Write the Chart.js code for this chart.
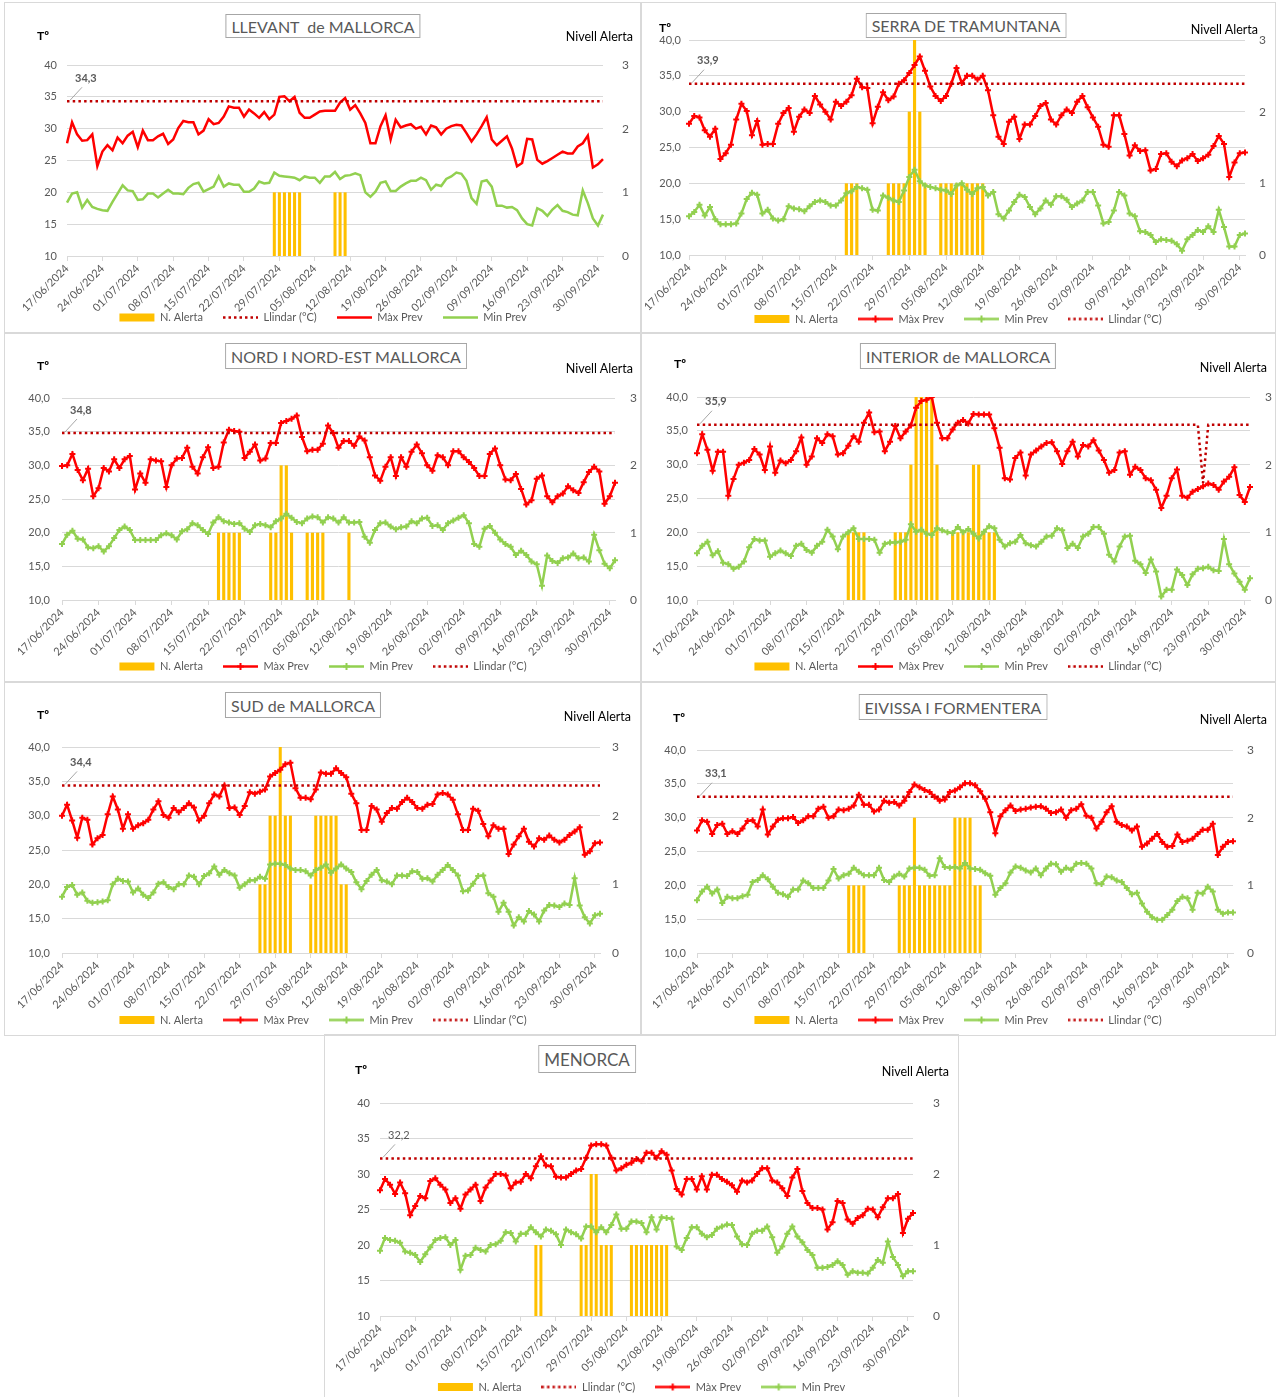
<!DOCTYPE html>
<html><head><meta charset="utf-8">
<script src="https://cdn.jsdelivr.net/npm/chart.js@4.4.1/dist/chart.umd.min.js"></script>
<style>
body{margin:0;background:#fff;width:1276px;height:1397px;position:relative;overflow:hidden;font-family:Lato,"Liberation Sans",sans-serif}
.panel{position:absolute;outline:1px solid #d9d9d9;}
.panel canvas{position:absolute;left:0;top:0}
.ttl{position:absolute;transform:translateX(-50%);border:1px solid #a6a6a6;color:#595959;font-size:16px;padding:0 5px;white-space:pre;display:flex;align-items:center;background:#fff;box-sizing:border-box}
.tu{position:absolute;font-weight:bold;font-size:12px;color:#000;transform:translateY(-50%)}
.na{position:absolute;font-size:12.5px;color:#000;transform:translate(-100%,-50%);white-space:nowrap}
</style></head><body>
<div class="panel" style="left:5px;top:3px;width:636px;height:330px"><canvas id="c1" width="636" height="330"></canvas></div>
<div class="panel" style="left:641px;top:3px;width:634px;height:330px"><canvas id="c2" width="634" height="330"></canvas></div>
<div class="panel" style="left:5px;top:333px;width:636px;height:349px"><canvas id="c3" width="636" height="349"></canvas></div>
<div class="panel" style="left:641px;top:333px;width:634px;height:349px"><canvas id="c4" width="634" height="349"></canvas></div>
<div class="panel" style="left:5px;top:682px;width:636px;height:353px"><canvas id="c5" width="636" height="353"></canvas></div>
<div class="panel" style="left:641px;top:682px;width:634px;height:353px"><canvas id="c6" width="634" height="353"></canvas></div>
<div class="panel" style="left:325px;top:1035px;width:633px;height:362px"><canvas id="c7" width="633" height="362"></canvas></div>

<div class="ttl" style="left:323px;top:14px;height:24px">LLEVANT  de MALLORCA</div>
<div class="tu" style="left:37px;top:35px">Tº</div>
<div class="na" style="left:633px;top:36px">Nivell Alerta</div>

<div class="ttl" style="left:966px;top:13px;height:25px">SERRA DE TRAMUNTANA</div>
<div class="tu" style="left:659px;top:27px">Tº</div>
<div class="na" style="left:1258px;top:29px">Nivell Alerta</div>

<div class="ttl" style="left:346px;top:343px;height:26px">NORD I NORD-EST MALLORCA</div>
<div class="tu" style="left:37px;top:365px">Tº</div>
<div class="na" style="left:633px;top:368px">Nivell Alerta</div>

<div class="ttl" style="left:958px;top:343px;height:26px">INTERIOR de MALLORCA</div>
<div class="tu" style="left:674px;top:363px">Tº</div>
<div class="na" style="left:1267px;top:367px">Nivell Alerta</div>

<div class="ttl" style="left:303px;top:692px;height:26px">SUD de MALLORCA</div>
<div class="tu" style="left:37px;top:714px">Tº</div>
<div class="na" style="left:631px;top:716px">Nivell Alerta</div>

<div class="ttl" style="left:953px;top:694px;height:26px">EIVISSA I FORMENTERA</div>
<div class="tu" style="left:673px;top:717px">Tº</div>
<div class="na" style="left:1267px;top:719px">Nivell Alerta</div>

<div class="ttl" style="left:587px;top:1045px;height:28px;font-size:17px">MENORCA</div>
<div class="tu" style="left:355px;top:1069px">Tº</div>
<div class="na" style="left:949px;top:1071px">Nivell Alerta</div>

<script>
// ---------- DATA ----------
const firstDay = {y: 2024, m: 6, d: 17};
const nDays = 107;
const tickEvery = 7;
const seriesNames = {alert: 'N. Alerta', max: 'Màx Prev', min: 'Min Prev', thr: 'Llindar (°C)'};

// LLEVANT de MALLORCA
const llevantMax = [27.7,31.0,29.1,28.1,28.2,29.1,24.1,26.4,27.4,26.6,
28.6,27.7,28.9,29.5,27.1,29.7,28.2,28.2,28.8,29.2,
27.6,28.3,30.1,31.2,31.0,31.0,29.1,29.7,31.5,30.7,
30.9,31.9,33.5,33.3,33.3,31.9,33.0,32.4,31.7,32.6,
31.5,32.2,35.0,35.1,34.3,35.0,32.5,31.7,31.7,32.2,
32.7,32.8,32.8,32.8,34.1,34.8,33.0,33.7,32.4,30.9,
27.7,27.7,30.4,32.1,28.3,31.4,30.2,30.5,30.7,30.0,
30.3,29.1,30.5,30.2,29.1,30.0,30.4,30.6,30.5,29.3,
28.0,29.1,30.4,31.8,28.3,27.4,28.1,28.8,26.9,24.1,
24.6,28.4,28.3,25.1,24.5,24.9,25.4,25.9,26.4,26.1,
26.1,27.2,27.7,28.9,23.9,24.4,25.2];
const llevantMin = [18.4,19.8,20.0,17.6,18.8,17.7,17.4,17.2,17.1,18.5,
19.8,21.1,20.3,20.2,18.8,18.9,19.8,19.8,19.2,19.8,
20.4,19.8,19.8,19.7,20.7,21.3,21.5,20.1,20.5,20.9,
22.5,20.9,21.4,21.2,21.2,20.1,20.1,20.6,21.7,21.4,
21.5,23.1,22.6,22.5,22.4,22.3,21.9,22.5,22.3,22.3,
21.5,22.5,22.5,23.2,22.1,22.6,22.7,23.0,22.7,20.0,
19.3,20.1,21.5,21.7,20.2,20.2,20.9,21.4,21.8,21.8,
22.3,21.9,20.4,21.2,21.0,22.1,22.5,23.1,22.9,21.8,
19.1,18.2,21.7,21.9,20.9,17.9,17.9,17.6,17.7,17.2,
15.9,15.0,14.8,17.5,17.1,16.3,17.3,18.0,17.1,16.9,
16.5,16.4,20.3,18.3,15.9,14.8,16.5];
const llevantAlert = [0,0,0,0,0,0,0,0,0,0, 0,0,0,0,0,0,0,0,0,0, 0,0,0,0,0,0,0,0,0,0, 0,0,0,0,0,0,0,0,0,0,
0,1,1,1,1,1,1,0,0,0, 0,0,0,1,1,1,0,0,0,0,
0,0,0,0,0,0,0,0,0,0, 0,0,0,0,0,0,0,0,0,0, 0,0,0,0,0,0,0,0,0,0, 0,0,0,0,0,0,0,0,0,0, 0,0,0,0,0,0,0];
const llevantLlindar = 34.3;

// SERRA DE TRAMUNTANA
const serraMax = [28.3,29.4,29.2,27.4,26.5,27.6,23.4,24.2,25.4,28.9,
31.1,30.1,26.7,28.7,25.4,25.5,25.5,28.3,29.8,30.5,
27.2,29.3,30.3,29.8,32.2,31.0,30.0,28.9,31.4,30.8,
31.4,32.3,34.6,33.4,33.3,28.4,30.7,32.7,31.6,32.1,
33.9,34.4,35.4,36.5,37.7,35.7,33.5,32.2,31.5,32.2,
33.9,36.1,34.0,35.0,35.0,34.5,35.0,33.0,29.5,26.5,
25.5,28.6,29.3,26.2,28.2,28.2,29.4,30.8,31.2,28.9,
28.2,29.5,30.3,29.8,31.4,32.2,30.6,29.2,27.9,25.4,
25.1,29.5,29.5,26.9,23.9,25.3,24.5,24.6,21.8,22.0,
24.1,24.2,23.0,22.4,23.2,23.5,24.1,23.1,23.5,24.0,
25.2,26.6,25.5,20.9,22.9,24.2,24.3];
const serraMin = [15.4,16.0,17.0,15.5,16.7,15.0,14.3,14.3,14.3,14.4,
15.8,17.8,18.7,18.4,15.8,16.3,15.1,14.8,15.0,16.8,
16.5,16.4,16.1,16.8,17.4,17.6,17.4,16.9,16.9,17.6,
18.6,18.9,19.5,19.3,19.1,16.3,16.2,18.3,18.0,17.6,
17.4,19.0,20.9,21.9,20.3,19.7,19.5,19.3,19.1,19.0,
18.5,19.7,20.0,19.1,18.5,19.3,19.5,18.3,18.8,15.7,
15.1,16.2,17.4,18.4,18.1,16.7,15.7,16.5,17.6,17.0,
18.2,18.2,17.7,16.7,17.2,17.6,18.8,18.8,16.9,14.4,
14.6,16.2,18.8,18.3,15.8,15.4,13.3,13.2,12.8,11.8,
12.2,12.1,12.0,11.5,10.6,12.2,12.8,13.5,13.2,14.0,
13.2,16.3,13.9,11.2,11.2,12.8,13.0];
const serraAlert = [0,0,0,0,0,0,0,0,0,0, 0,0,0,0,0,0,0,0,0,0, 0,0,0,0,0,0,0,0,0,0,
1,1,1,0,0,0,0,0,1,1, 1,1,2,3,2,1,0,0,1,1, 1,1,1,1,1,1,1,0,0,0,
0,0,0,0,0,0,0,0,0,0, 0,0,0,0,0,0,0,0,0,0, 0,0,0,0,0,0,0,0,0,0, 0,0,0,0,0,0,0,0,0,0, 0,0,0,0,0,0,0];
const serraLlindar = 33.9;

// NORD I NORD-EST MALLORCA
const nordMax = [29.9,30.0,31.7,29.3,27.8,29.5,25.4,26.6,29.6,29.1,
30.9,29.6,30.9,31.4,26.4,28.8,27.4,30.9,30.7,30.6,
26.8,30.0,31.0,31.1,32.6,29.8,28.8,31.2,32.7,29.6,
29.8,33.4,35.3,35.1,35.0,31.1,32.0,33.1,30.7,31.0,
33.3,33.3,36.3,36.6,36.9,37.4,34.2,32.1,32.3,32.3,
33.2,35.9,34.8,32.6,33.6,33.6,32.9,34.3,33.7,31.2,
28.5,27.7,29.8,31.2,28.4,31.2,29.8,32.0,33.1,31.8,
30.0,29.2,31.5,31.2,30.0,32.1,32.1,31.2,30.5,29.6,
28.4,28.4,31.7,32.5,30.0,27.9,27.8,28.7,26.5,24.2,
24.8,28.0,28.5,25.4,24.5,25.4,25.8,26.9,26.3,25.9,
27.5,29.0,29.8,29.1,24.3,25.4,27.4];
const nordMin = [18.3,19.7,20.3,19.1,19.0,17.8,17.7,18.0,17.2,18.0,
19.2,20.4,20.9,20.4,18.9,18.9,18.9,18.9,18.9,19.6,
19.9,19.6,19.0,20.2,20.5,21.4,21.1,20.4,19.8,21.5,
22.3,21.7,21.5,21.3,21.4,20.6,20.1,21.1,21.3,21.1,
20.8,21.7,22.1,22.8,22.2,21.6,21.4,22.1,22.4,22.3,
21.5,22.3,22.1,21.5,22.3,21.5,21.5,21.6,19.4,18.5,
20.4,21.4,21.5,20.9,20.5,20.8,20.9,21.7,21.4,22.1,
22.2,21.0,21.1,20.4,21.4,21.8,22.2,22.6,21.4,18.3,
17.9,20.6,21.0,20.0,19.0,18.3,17.9,16.7,17.3,16.7,
15.7,15.3,12.1,16.6,15.8,15.5,16.2,16.3,16.9,16.2,
16.3,15.7,19.7,17.4,15.4,14.7,15.9];
const nordAlert = [0,0,0,0,0,0,0,0,0,0, 0,0,0,0,0,0,0,0,0,0, 0,0,0,0,0,0,0,0,0,0,
1,1,1,1,1,0,0,0,0,0, 1,1,2,2,1,0,0,1,1,1, 1,0,0,0,0,1,0,0,0,0,
0,0,0,0,0,0,0,0,0,0, 0,0,0,0,0,0,0,0,0,0, 0,0,0,0,0,0,0,0,0,0, 0,0,0,0,0,0,0,0,0,0, 0,0,0,0,0,0,0];
const nordLlindar = 34.8;

// INTERIOR de MALLORCA
const interiorMax = [31.7,34.5,32.2,29.1,31.9,31.9,25.4,27.9,30.0,30.3,
30.7,32.3,31.5,29.2,32.7,28.8,30.6,30.2,30.7,32.0,
34.0,30.0,31.2,33.9,33.2,34.5,34.2,31.5,31.7,32.8,
34.2,33.4,36.2,37.7,34.8,34.9,32.0,33.4,35.7,33.9,
34.9,35.8,38.4,39.4,39.6,40.0,36.2,33.9,33.9,35.2,
36.2,36.6,36.1,37.5,37.4,37.4,37.4,35.4,32.5,28.0,
27.8,31.0,31.8,28.4,31.5,32.1,32.7,33.2,33.3,32.0,
30.1,32.0,33.4,31.2,32.9,32.7,33.6,32.1,30.7,28.8,
29.2,31.8,32.0,28.5,29.7,29.2,28.0,27.7,26.3,23.6,
25.4,28.0,29.3,25.4,25.1,26.0,26.4,26.8,27.2,27.0,
26.3,27.5,28.2,29.6,25.5,24.5,26.7];
const interiorMin = [16.9,18.0,18.6,16.6,17.2,15.5,15.3,14.6,14.9,15.7,
17.8,19.0,18.8,18.8,16.4,16.9,17.3,16.9,16.5,18.0,
18.3,17.4,17.0,18.0,18.6,20.4,19.4,17.5,19.4,20.0,
20.6,19.0,19.0,19.0,18.9,17.0,18.3,18.5,18.5,18.6,
18.9,21.2,20.1,20.4,19.8,19.6,20.6,20.3,20.0,19.9,
20.8,20.0,20.5,19.8,19.1,20.1,20.9,20.6,18.9,17.9,
18.4,18.6,19.6,18.4,18.1,17.9,18.6,19.4,19.5,20.6,
20.3,17.7,18.3,17.7,19.4,19.8,20.8,20.8,19.8,16.7,
15.7,17.9,19.4,19.5,15.8,15.3,14.0,16.0,14.2,10.5,
11.5,11.5,14.5,13.7,12.2,13.8,14.6,14.7,14.9,14.4,
14.3,19.0,15.3,13.9,12.7,11.5,13.2];
const interiorAlert = [0,0,0,0,0,0,0,0,0,0, 0,0,0,0,0,0,0,0,0,0, 0,0,0,0,0,0,0,0,0,1,
1,1,1,0,0,0,0,0,1,1, 1,2,3,3,3,3,2,0,0,1, 1,1,1,2,2,1,1,1,0,0,
0,0,0,0,0,0,0,0,0,0, 0,0,0,0,0,0,0,0,0,0, 0,0,0,0,0,0,0,0,0,0, 0,0,0,0,0,0,0,0,0,0, 0,0,0,0,0,0,0];
const interiorLlindar = 35.9;
const interiorLlindarDip = {day: 97, value: 27.3};

// SUD de MALLORCA
const sudMax = [30.0,31.6,29.3,26.8,29.7,29.4,25.8,26.7,27.2,30.2,
32.8,30.9,28.1,30.2,28.1,28.6,28.9,29.4,30.9,32.1,
30.1,29.7,31.1,30.5,31.1,31.8,31.2,29.3,30.0,31.8,
33.1,32.8,34.4,31.1,31.2,30.1,31.4,33.4,33.2,33.5,
33.8,35.7,36.2,36.7,37.5,37.7,34.0,32.6,32.6,32.4,
33.8,36.3,36.1,36.1,36.9,36.2,35.6,33.2,31.8,27.9,
27.9,31.4,30.9,29.1,30.4,31.1,31.0,32.0,32.6,32.0,
31.1,31.0,31.6,31.7,33.1,33.3,33.1,32.3,30.2,27.9,
27.9,31.0,30.7,28.8,27.0,28.6,28.1,28.1,24.4,25.8,
27.0,28.1,26.2,25.5,26.7,26.5,27.1,26.5,26.1,26.5,
27.2,27.7,28.3,24.3,24.8,26.0,26.1];
const sudMin = [18.2,19.6,19.9,18.5,18.8,17.6,17.3,17.4,17.5,17.7,
20.0,20.8,20.5,20.4,18.8,19.4,18.5,18.0,18.8,20.1,
20.3,19.6,19.3,20.0,20.0,21.3,21.1,20.0,21.2,21.6,
22.6,21.4,22.1,21.6,21.3,19.5,20.0,20.6,20.6,21.1,
20.8,22.9,23.0,23.0,22.8,22.3,22.1,22.1,21.9,21.3,
22.1,22.4,22.9,21.7,22.3,22.9,22.3,21.8,20.3,19.3,
20.5,21.4,22.1,20.6,20.4,20.0,21.3,21.3,21.2,21.9,
21.8,20.8,20.9,20.4,21.4,22.1,22.8,22.1,21.3,19.0,
19.1,20.1,21.2,21.3,18.7,18.2,16.0,17.3,16.0,14.0,
15.2,14.6,16.1,15.6,14.6,16.2,17.0,16.9,16.7,17.2,
17.0,20.9,16.9,15.2,14.3,15.5,15.7];
const sudAlert = [0,0,0,0,0,0,0,0,0,0, 0,0,0,0,0,0,0,0,0,0, 0,0,0,0,0,0,0,0,0,0,
0,0,0,0,0,0,0,0,0,1, 1,2,2,3,2,2,0,0,0,1, 2,2,2,2,2,1,1,0,0,0,
0,0,0,0,0,0,0,0,0,0, 0,0,0,0,0,0,0,0,0,0, 0,0,0,0,0,0,0,0,0,0, 0,0,0,0,0,0,0,0,0,0, 0,0,0,0,0,0,0];
const sudLlindar = 34.4;

// EIVISSA I FORMENTERA
const eivissaMax = [28.1,29.6,29.4,27.6,28.9,29.1,27.6,28.0,27.6,28.4,
29.5,29.6,28.7,31.2,27.5,28.7,29.7,29.9,29.9,30.1,
29.2,29.6,30.2,30.2,31.3,31.6,30.0,30.2,31.2,31.1,
31.3,31.8,33.4,31.9,31.9,30.9,31.2,32.5,32.2,32.3,
31.8,32.5,33.8,34.9,34.5,34.1,33.8,33.1,32.5,32.7,
33.8,34.0,34.5,35.1,35.1,34.8,33.9,32.8,30.8,27.7,
30.2,31.1,31.8,31.0,31.2,31.3,31.5,31.6,31.7,31.3,
30.7,30.8,31.2,30.0,31.1,31.3,32.0,30.3,30.0,28.4,
29.4,30.8,31.7,29.4,28.9,28.7,28.1,28.7,25.7,26.2,
26.9,27.6,26.4,25.7,25.8,27.5,26.4,26.6,26.9,27.6,
28.2,28.2,29.1,24.5,25.7,26.4,26.5];
const eivissaMin = [17.8,19.1,19.8,18.8,19.4,17.4,18.3,18.1,18.1,18.4,
18.6,20.5,20.8,21.5,20.9,19.8,18.9,18.7,18.3,19.4,
19.4,20.7,20.3,19.6,19.6,19.6,20.7,22.4,21.0,21.5,
21.7,22.6,22.0,21.5,21.5,21.5,22.6,20.8,20.5,21.3,
21.7,21.3,22.5,22.6,22.6,22.3,21.4,21.5,24.0,22.7,
22.6,22.7,22.5,23.3,22.5,22.4,22.3,21.8,21.4,18.6,
19.6,20.3,21.9,22.8,22.6,22.2,21.9,22.5,21.5,22.5,
23.2,23.1,22.0,22.6,22.3,23.2,23.3,23.2,22.5,20.3,
20.2,21.3,21.2,20.7,20.5,19.6,18.7,18.9,17.3,16.1,
15.3,14.9,14.9,15.6,16.4,17.7,18.3,18.1,16.4,18.9,
18.8,19.8,19.1,16.4,15.8,16.0,16.0];
const eivissaAlert = [0,0,0,0,0,0,0,0,0,0, 0,0,0,0,0,0,0,0,0,0, 0,0,0,0,0,0,0,0,0,0,
1,1,1,1,0,0,0,0,0,0, 1,1,1,2,1,1,1,1,1,1, 1,2,2,2,2,1,1,0,0,0,
0,0,0,0,0,0,0,0,0,0, 0,0,0,0,0,0,0,0,0,0, 0,0,0,0,0,0,0,0,0,0, 0,0,0,0,0,0,0,0,0,0, 0,0,0,0,0,0,0];
const eivissaLlindar = 33.1;

// MENORCA
const menorcaMax = [27.7,29.3,28.5,27.2,28.8,27.3,24.2,25.5,26.9,26.6,
29.0,29.4,28.5,27.8,25.9,26.6,25.1,27.1,27.8,28.5,
26.2,28.1,29.1,30.0,30.0,29.8,28.0,28.8,28.9,30.0,
29.4,31.1,32.5,31.2,31.1,29.6,29.5,29.5,30.0,30.5,
30.7,32.3,34.0,34.2,34.2,34.0,32.3,30.5,30.8,31.3,
31.6,32.1,31.8,33.0,33.0,32.3,33.2,32.7,30.5,27.9,
27.1,29.3,29.3,27.8,29.7,27.8,29.9,29.9,29.3,28.9,
28.4,27.5,29.1,28.8,29.1,30.0,30.8,30.8,29.1,28.8,
28.0,26.9,29.5,30.7,27.6,25.9,25.2,25.2,25.0,22.2,
23.2,26.2,25.9,23.6,23.0,23.8,24.2,25.1,25.0,23.9,
25.3,26.6,26.6,27.2,21.7,23.7,24.5];
const menorcaMin = [19.2,21.0,20.7,20.6,20.3,19.1,18.9,18.6,17.6,18.7,
19.7,20.7,21.0,21.1,20.0,20.7,16.5,18.5,18.6,19.6,
19.3,19.1,20.0,20.1,20.6,21.8,21.7,20.5,21.6,21.6,
22.5,21.8,21.2,22.2,22.0,21.5,20.0,22.2,21.8,21.5,
20.9,22.6,22.6,21.8,22.5,21.8,22.8,24.3,22.3,22.3,
23.3,23.3,23.1,21.8,23.9,22.2,23.9,23.8,23.7,19.8,
19.3,21.0,22.5,22.5,21.6,21.1,21.4,22.3,22.6,22.9,
22.8,21.2,20.1,20.0,21.6,22.0,22.0,22.6,21.1,18.9,
19.8,21.6,22.6,21.2,20.4,19.3,18.6,16.8,16.8,16.9,
17.2,17.7,17.2,15.8,16.3,16.1,16.1,16.0,16.8,17.9,
17.5,20.5,18.3,17.2,15.6,16.3,16.3];
const menorcaAlert = [0,0,0,0,0,0,0,0,0,0, 0,0,0,0,0,0,0,0,0,0, 0,0,0,0,0,0,0,0,0,0,
0,1,1,0,0,0,0,0,0,0, 1,1,2,2,1,1,1,0,0,0, 1,1,1,1,1,1,1,1,0,0,
0,0,0,0,0,0,0,0,0,0, 0,0,0,0,0,0,0,0,0,0, 0,0,0,0,0,0,0,0,0,0, 0,0,0,0,0,0,0,0,0,0, 0,0,0,0,0,0,0];
const menorcaLlindar = 32.2;

const tempTicks = [10, 15, 20, 25, 30, 35, 40];
const alertTicks = [0, 1, 2, 3];

// ---------- CATEGORIES ----------
const pad2 = n => String(n).padStart(2, '0');
const dates = [];
for (let i = 0; i < nDays; i++) {
  const dt = new Date(Date.UTC(firstDay.y, firstDay.m - 1, firstDay.d + i));
  dates.push(pad2(dt.getUTCDate()) + '/' + pad2(dt.getUTCMonth() + 1) + '/' + dt.getUTCFullYear());
}

// ---------- STYLE / LAYOUT ----------
const COL = {alert: '#FFC000', max: '#FF0000', min: '#92D050', thr: '#C00000', grid: '#D9D9D9', text: '#595959'};
Chart.defaults.font.family = 'Lato, "Liberation Sans", sans-serif';
Chart.defaults.color = COL.text;

function legendImg(color, dotted, marker) {
  const c = document.createElement('canvas');
  c.width = 35; c.height = 9;
  const g = c.getContext('2d');
  g.strokeStyle = color; g.lineWidth = 2.5;
  if (dotted) g.setLineDash([2.5, 3]);
  g.beginPath(); g.moveTo(0, 4.5); g.lineTo(35, 4.5); g.stroke();
  if (marker) {
    g.setLineDash([]); g.lineWidth = 2;
    g.beginPath(); g.moveTo(14, 4.5); g.lineTo(21, 4.5); g.moveTo(17.5, 1); g.lineTo(17.5, 8); g.stroke();
  }
  return c;
}

const thrLabelPlugin = {
  id: 'thrLabel',
  afterDatasetsDraw(chart, args, opts) {
    if (!opts || opts.value == null) return;
    const {ctx, chartArea} = chart;
    const y = chart.scales.y.getPixelForValue(opts.value);
    const x = chartArea.left;
    ctx.save();
    ctx.strokeStyle = '#A6A6A6'; ctx.lineWidth = 1;
    ctx.beginPath(); ctx.moveTo(x + 3, y - 1); ctx.lineTo(x + 15, y - 14); ctx.stroke();
    ctx.font = (opts.bold ? 'bold ' : '') + '11px Lato, "Liberation Sans", sans-serif';
    ctx.fillStyle = COL.text; ctx.textBaseline = 'middle'; ctx.textAlign = 'left';
    ctx.fillText(String(opts.value.toFixed(1)).replace('.', ','), x + 8, y - 23);
    ctx.restore();
  }
};
Chart.register(thrLabelPlugin);

const panels = [
  {canvas: 'c1', size: [636, 330], area: {L: 62, R: 598, T: 62, B: 253}, legendY: 314, yPad: 10, y1Pad: 19,
   max: llevantMax, min: llevantMin, alert: llevantAlert, thr: llevantLlindar, markers: false, intTicks: true, thrFirst: true, bold: true},
  {canvas: 'c2', size: [634, 330], area: {L: 48, R: 604, T: 37, B: 252}, legendY: 316, yPad: 8, y1Pad: 14,
   max: serraMax, min: serraMin, alert: serraAlert, thr: serraLlindar, markers: true, intTicks: false, thrFirst: false, bold: true},
  {canvas: 'c3', size: [636, 349], area: {L: 57, R: 610, T: 65, B: 267}, legendY: 333, yPad: 12, y1Pad: 15,
   max: nordMax, min: nordMin, alert: nordAlert, thr: nordLlindar, markers: true, intTicks: false, thrFirst: false, bold: true},
  {canvas: 'c4', size: [634, 349], area: {L: 56, R: 609, T: 64, B: 267}, legendY: 333, yPad: 9, y1Pad: 15,
   max: interiorMax, min: interiorMin, alert: interiorAlert, thr: interiorLlindar, dip: interiorLlindarDip, markers: true, intTicks: false, thrFirst: false, bold: true},
  {canvas: 'c5', size: [636, 353], area: {L: 57, R: 595, T: 65, B: 271}, legendY: 338, yPad: 12, y1Pad: 12,
   max: sudMax, min: sudMin, alert: sudAlert, thr: sudLlindar, markers: true, intTicks: false, thrFirst: false, bold: true},
  {canvas: 'c6', size: [634, 353], area: {L: 56, R: 592, T: 68, B: 271}, legendY: 338, yPad: 11, y1Pad: 14,
   max: eivissaMax, min: eivissaMin, alert: eivissaAlert, thr: eivissaLlindar, markers: true, intTicks: false, thrFirst: false, bold: true},
  {canvas: 'c7', size: [633, 362], area: {L: 55, R: 588, T: 68, B: 281}, legendY: 352, yPad: 10, y1Pad: 20,
   max: menorcaMax, min: menorcaMin, alert: menorcaAlert, thr: menorcaLlindar, markers: true, intTicks: true, thrFirst: true, bold: false}
];

const LEG_PAD = 20, LEG_FONT = 11;

panels.forEach(p => {
  const [W, H] = p.size;
  const a = p.area;
  const legendNatural = LEG_FONT + LEG_PAD + 10;
  const legendH = Math.min(legendNatural, H - p.legendY + LEG_PAD + LEG_FONT / 2);
  const xH = H - legendH - a.B;

  const thrSeries = dates.map(() => p.thr);
  if (p.dip) thrSeries[p.dip.day] = p.dip.value;

  const alertDs = {type: 'bar', label: seriesNames.alert, data: p.alert, yAxisID: 'y1', xAxisID: 'x',
    backgroundColor: COL.alert, borderWidth: 0, barPercentage: 0.6, categoryPercentage: 1, order: 10,
    _leg: {pointStyle: 'rect', fillStyle: COL.alert, strokeStyle: COL.alert, lineWidth: 0}};
  const lineBase = {type: 'line', yAxisID: 'y', xAxisID: 'x', borderWidth: 2.5, tension: 0, fill: false,
    pointRadius: p.markers ? 3 : 0, pointStyle: 'cross', pointBorderWidth: 2};
  const maxDs = Object.assign({}, lineBase, {label: seriesNames.max, data: p.max, borderColor: COL.max, backgroundColor: COL.max,
    pointBorderColor: COL.max, order: 2, _leg: {pointStyle: legendImg(COL.max, false, p.markers)}});
  const minDs = Object.assign({}, lineBase, {label: seriesNames.min, data: p.min, borderColor: COL.min, backgroundColor: COL.min,
    pointBorderColor: COL.min, order: 3, _leg: {pointStyle: legendImg(COL.min, false, p.markers)}});
  const thrDs = {type: 'line', label: seriesNames.thr, data: thrSeries, yAxisID: 'y', xAxisID: 'x', borderColor: COL.thr,
    backgroundColor: COL.thr, borderWidth: 2.5, borderDash: [2.5, 3.2], pointRadius: 0, tension: 0, fill: false, order: 1,
    _leg: {pointStyle: legendImg(COL.thr, true, false)}};

  const datasets = p.thrFirst ? [alertDs, thrDs, maxDs, minDs] : [alertDs, maxDs, minDs, thrDs];

  new Chart(document.getElementById(p.canvas), {
    type: 'bar',
    data: {labels: dates, datasets},
    options: {
      responsive: false, animation: false, devicePixelRatio: 1,
      layout: {padding: {top: a.T, left: 0, right: 0, bottom: 0}},
      plugins: {
        tooltip: {enabled: false},
        thrLabel: {value: p.thr, bold: p.bold},
        legend: {
          position: 'bottom', align: 'center', maxHeight: legendH,
          labels: {
            usePointStyle: true, pointStyleWidth: 35, boxHeight: 8, padding: LEG_PAD,
            color: COL.text, font: {size: LEG_FONT},
            generateLabels: chart => chart.data.datasets.map((d, i) => Object.assign({
              text: d.label, datasetIndex: i, hidden: false, fontColor: COL.text,
              fillStyle: 'rgba(0,0,0,0)', strokeStyle: 'rgba(0,0,0,0)', lineWidth: 0
            }, d._leg))
          }
        }
      },
      scales: {
        x: {
          type: 'category', offset: false,
          grid: {offset: false, drawOnChartArea: false, drawTicks: true, tickLength: 5, color: COL.grid},
          border: {display: true, color: COL.grid},
          ticks: {autoSkip: false, minRotation: 45, maxRotation: 45, padding: 1, color: COL.text, font: {size: 11}},
          afterBuildTicks: axis => { axis.ticks = axis.ticks.filter(t => t.value % tickEvery === 0); },
          afterFit: axis => {
            axis.height = xH;
            // rotated date labels extend below the (short) axis box; do not clip them
            axis._computeLabelArea = () => undefined;
          }
        },
        y: {
          position: 'left', min: tempTicks[0], max: tempTicks[tempTicks.length - 1],
          ticks: {stepSize: tempTicks[1] - tempTicks[0], padding: p.yPad, color: COL.text, font: {size: 11},
            callback: v => p.intTicks ? String(v) : v.toFixed(1).replace('.', ',')},
          grid: {color: COL.grid, drawTicks: false},
          border: {display: false},
          afterFit: axis => { axis.width = a.L; }
        },
        y1: {
          position: 'right', min: alertTicks[0], max: alertTicks[alertTicks.length - 1],
          ticks: {stepSize: 1, padding: p.y1Pad, color: COL.text, font: {size: 12}},
          grid: {display: false, drawTicks: false},
          border: {display: false},
          afterFit: axis => { axis.width = W - a.R; }
        }
      }
    }
  });
});
</script>
</body></html>
